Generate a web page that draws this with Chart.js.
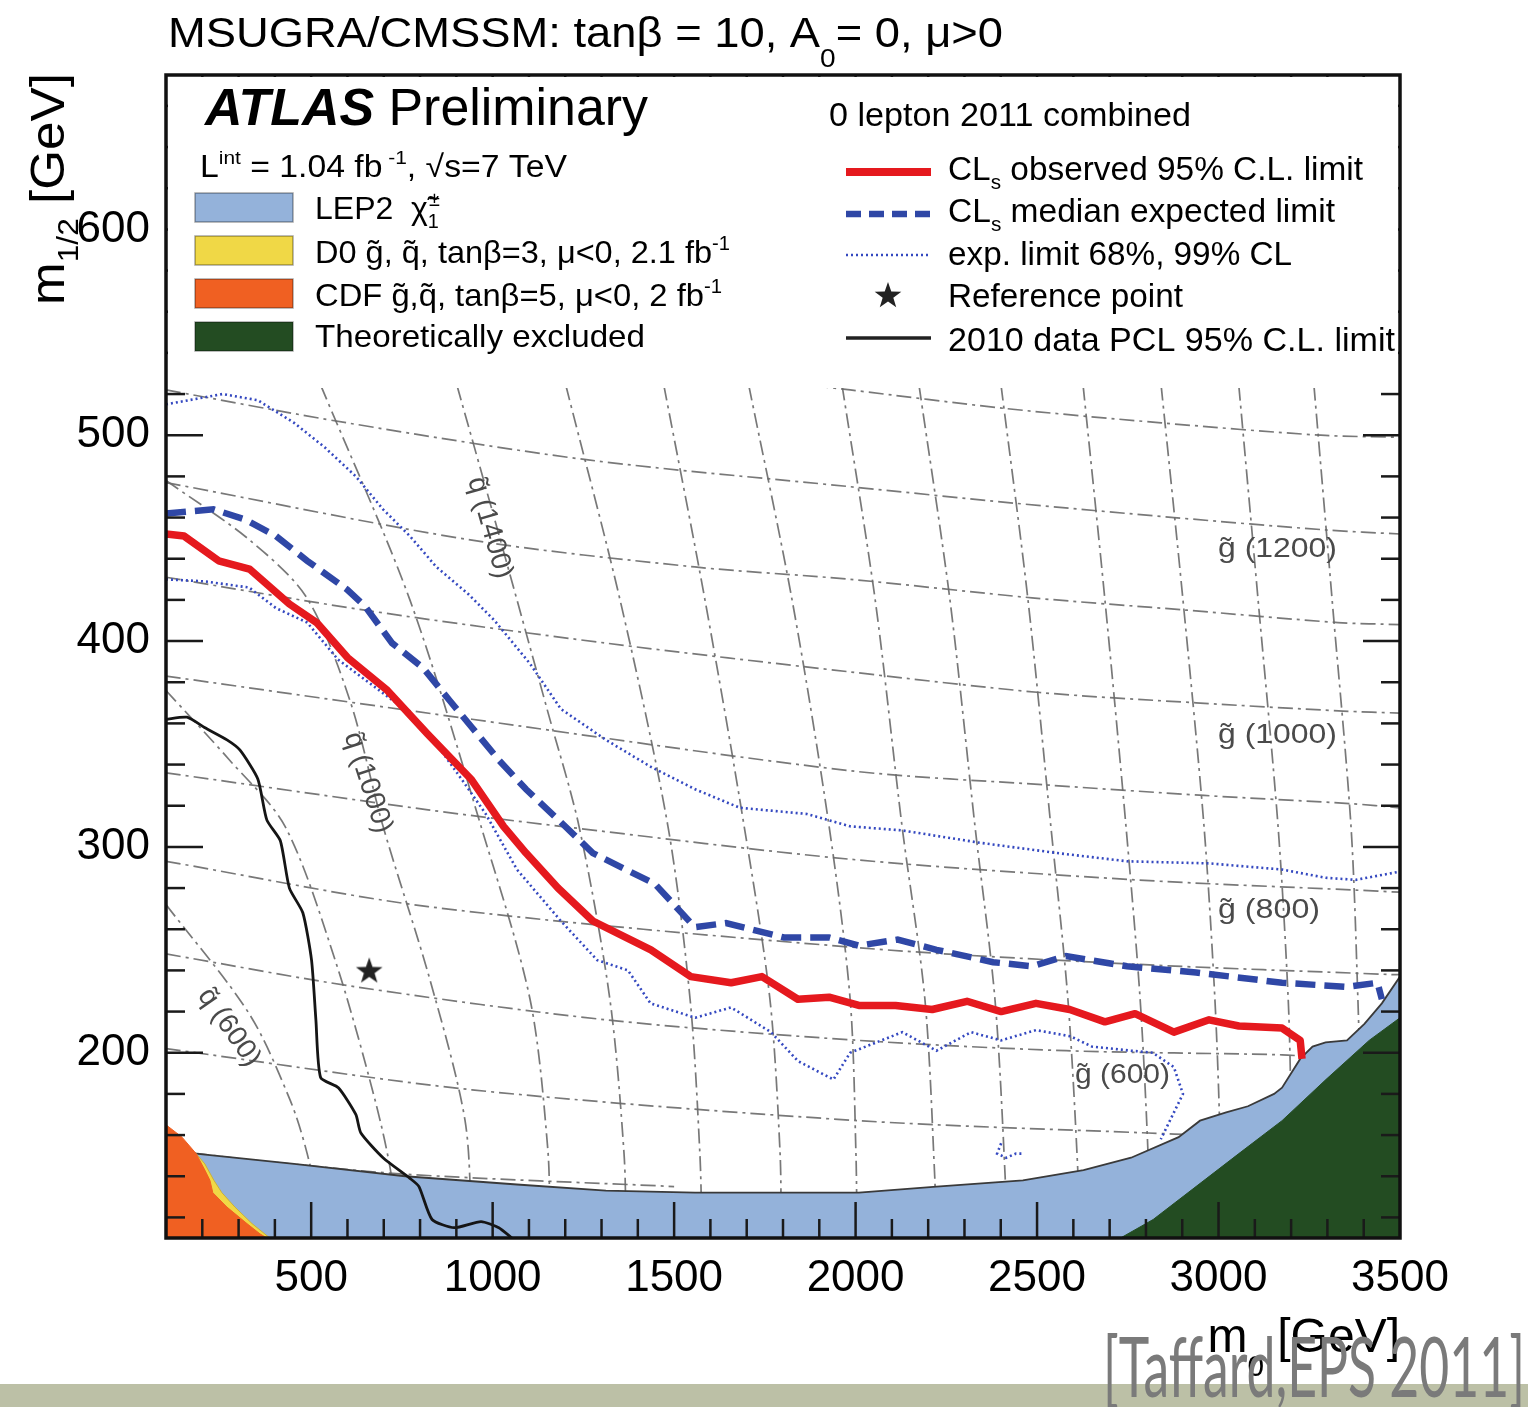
<!DOCTYPE html>
<html><head><meta charset="utf-8">
<script src="https://cdn.jsdelivr.net/npm/chart.js@4.4.1/dist/chart.umd.min.js"></script>
<style>html,body{margin:0;padding:0;background:#fff;}#wrap{position:relative;width:1528px;height:1407px;}canvas{display:block;}</style>
</head><body><div id="wrap"><canvas id="c" width="1528" height="1407"></canvas></div>
<script>
// ---------- data (m0 [GeV], m1/2 [GeV]) ----------
const xLabelValues = [500, 1000, 1500, 2000, 2500, 3000, 3500];
const yLabelValues = [200, 300, 400, 500, 600];

const observedLimit = [[100,452],[150,451],[245,439],[330,435],[440,418],[515,409],[600,392],[710,376],[820,355],[940,333],[1030,310],[1092,297],[1180,280],[1276,264],[1436,250],[1546,237],[1657,234],[1742,237],[1841,226],[1927,227],[2009,223],[2110,223],[2211,221],[2307,225],[2401,220],[2497,224],[2590,221],[2687,215],[2770,219],[2877,210],[2974,216],[3056,213],[3175,212],[3225,206],[3230,197]];
const expectedLimit = [[100,462],[231,464],[318,459],[403,451],[489,439],[599,425],[648,417],[723,399],[808,387],[882,371],[943,358],[1018,342],[1092,328],[1188,312],[1276,297],[1447,282],[1557,261],[1643,263],[1803,256],[1927,256],[2009,252],[2116,255],[2223,250],[2379,244],[2486,242],[2580,247],[2748,242],[2938,239],[3175,234],[3354,232],[3438,234],[3450,226]];
const expectedUpper = [[100,515],[256,520],[353,517],[453,506],[538,494],[623,480],[698,464],[772,451],[845,436],[932,423],[1005,410],[1103,389],[1188,367],[1312,352],[1435,339],[1558,328],[1681,319],[1866,316],[1985,310],[2129,308],[2343,302],[2556,297],[2748,293],[2974,292],[3175,289],[3295,285],[3378,284],[3500,288]];
const expectedLower = [[100,430],[206,429],[329,426],[403,416],[489,409],[574,391],[673,378],[772,365],[845,350],[918,332],[981,316],[1067,289],[1188,264],[1288,245],[1373,240],[1435,224],[1558,217],[1657,222],[1767,210],[1841,196],[1939,187],[1985,200],[2129,210],[2223,201],[2318,210],[2401,206],[2497,211],[2592,208],[2651,203],[2759,201],[2819,200],[2877,193],[2902,180],[2841,158]];
const expectedIsland = [[2401,156],[2390,151],[2415,149],[2442,151],[2461,151]];
const pcl2010 = [[100,362],[158,363],[206,358],[268,352],[304,347],[353,333],[378,313],[415,303],[440,280],[477,268],[501,245],[513,216],[526,188],[575,183],[623,170],[637,161],[698,149],[772,139],[797,135],[833,119],[894,115],[968,118],[1017,115],[1053,110]];
const referencePoint = [[660,240]];

const lep2Chargino = [[100,155],[182,151],[453,146],[759,140],[1067,136],[1312,133],[1558,132],[2009,132],[2223,135],[2461,138],[2628,143],[2759,149],[2890,159],[2949,167],[3021,171],[3081,174],[3153,180],[3175,183],[3225,197],[3259,203],[3295,205],[3354,206],[3402,214],[3450,224],[3500,237]];
const theoExcluded = [[2730,110],[2820,119],[2938,135],[3056,151],[3175,167],[3296,187],[3415,206],[3500,217]];
const cdfExcluded = [[100,165],[144,159],[183,151],[207,143],[221,138],[229,132],[268,125],[323,117],[359,112],[378,110]];
const d0Excluded = [[183,151],[207,146],[232,138],[254,132],[290,125],[337,117],[386,110]];

// iso-mass contours
const gluino400 = [[100,153],[330,148],[760,141],[1500,135]];
const gluino500 = [[100,202],[943,182],[2009,167],[2806,161],[2950,160]];
const gluino600 = [[100,248],[624,232],[1312,216],[2009,206],[2580,201],[3175,199],[3260,198]];
const gluino700 = [[100,293],[822,271],[2009,251],[2770,243],[3475,238],[3500,238]];
const gluino800 = [[100,336],[822,318],[1188,310],[1985,294],[2770,284],[3379,279],[3500,278]];
const gluino900 = [[100,383],[943,362],[1985,337],[2533,330],[2960,325],[3365,321],[3500,319]];
const gluino1000 = [[100,431],[648,415],[1312,399],[1985,385],[2508,375],[2938,370],[3343,366],[3500,365]];
const gluino1100 = [[100,477],[943,449],[1557,436],[1985,430],[2486,421],[2913,415],[3329,409],[3500,408]];
const gluino1200 = [[100,522],[599,506],[1263,488],[1985,475],[2437,467],[2877,460],[3294,454],[3500,452]];
const gluino1300 = [[1500,532],[1985,522],[2412,513],[2842,506],[3282,500],[3500,499]];

const squark600 = [[100,272],[329,219],[442,177],[489,151],[540,110]];
const squark800 = [[100,376],[276,342],[428,310],[566,245],[676,177],[723,138],[731,110]];
const squark1000 = [[100,478],[331,449],[488,421],[607,371],[698,310],[828,235],[924,167],[943,110]];
const squark1200 = [[527,524],[772,420],[968,310],[1103,226],[1152,153],[1158,110]];
const squark1400 = [[902,524],[1012,455],[1153,365],[1238,310],[1323,226],[1362,151],[1368,110]];
const squark1600 = [[1202,524],[1351,420],[1483,310],[1544,226],[1571,151],[1577,110]];
const squark1800 = [[1472,524],[1585,420],[1693,310],[1764,226],[1792,151],[1795,110]];
const squark2000 = [[1706,524],[1825,420],[1927,310],[1985,226],[2001,151],[2004,110]];
const squark2200 = [[1963,524],[2054,420],[2128,310],[2191,226],[2218,140],[2222,110]];
const squark2400 = [[2175,524],[2260,420],[2329,310],[2384,226],[2412,140],[2415,110]];
const squark2600 = [[2401,524],[2475,420],[2538,310],[2585,226],[2613,140],[2616,110]];
const squark2800 = [[2627,524],[2687,420],[2745,310],[2784,226],[2806,150],[2810,110]];
const squark3000 = [[2842,524],[2902,420],[2960,310],[2990,226],[3004,160],[3008,110]];
const squark3200 = [[3056,524],[3109,420],[3164,310],[3192,226],[3200,170],[3204,110]];
const squark3400 = [[3263,524],[3313,420],[3365,310],[3384,226],[3392,170],[3396,110]];

const gridContours = [gluino400,gluino500,gluino600,gluino700,gluino800,gluino900,gluino1000,gluino1100,gluino1200,gluino1300,
  squark600,squark800,squark1000,squark1200,squark1400,squark1600,squark1800,squark2000,squark2200,squark2400,squark2600,squark2800,squark3000,squark3200,squark3400];

// ---------- styling ----------
const FONT = 'Liberation Sans';
const C_RED = '#e5191e', C_BLUE = '#2f47a6', C_DOT = '#3448c0';
const C_LEP = '#94b2da', C_D0 = '#f0d846', C_CDF = '#f06022', C_THEO = '#234c22';
const pts = a => a.map(p => ({x:p[0], y:p[1]}));

const starImg = document.createElement('canvas');
starImg.width = 30; starImg.height = 30;
(function(){
  const s = starImg.getContext('2d');
  s.fillStyle = '#222'; s.beginPath();
  for (let i=0;i<10;i++){
    const r = i%2===0 ? 14 : 5.6;
    const a = -Math.PI/2 + i*Math.PI/5;
    const px = 15 + r*Math.cos(a), py = 16 + r*Math.sin(a);
    if (i===0) s.moveTo(px,py); else s.lineTo(px,py);
  }
  s.closePath(); s.fill();
})();

function rich(ctx, segs, x, y, size, o){
  o = o || {};
  const parts = segs.map(s => {
    const sz = s.s ? size*0.62 : size;
    const font = `${(s.i||o.italic)?'italic ':''}${(s.b||o.bold)?'bold ':''}${sz}px "${o.family||FONT}"`;
    ctx.font = font;
    const w = ctx.measureText(s.t).width;
    const dy = s.dy !== undefined ? s.dy : (s.s==='sub' ? size*0.28 : s.s==='sup' ? -size*0.42 : 0);
    return {t:s.t, font, w, dy, dx:s.dx||0};
  });
  const total = parts.reduce((a,p)=>a+p.w+p.dx,0);
  const sx = o.width ? o.width/total : 1;
  ctx.save();
  ctx.translate(x,y);
  if (o.rot) ctx.rotate(o.rot);
  let start = 0;
  if (o.align==='right') start = -total*sx; else if (o.align==='center') start = -total*sx/2;
  ctx.translate(start, o.vcenter ? size*0.36 : 0);
  ctx.scale(sx,1);
  ctx.fillStyle = o.color || '#000';
  ctx.textBaseline = 'alphabetic'; ctx.textAlign = 'left';
  let cx = 0;
  for (const p of parts){ cx += p.dx; ctx.font = p.font; ctx.fillText(p.t, cx, p.dy); cx += p.w; }
  ctx.restore();
}
function seg(ctx,x1,y1,x2,y2){ctx.beginPath();ctx.moveTo(x1,y1);ctx.lineTo(x2,y2);ctx.stroke();}

const decor = {
  id:'decor',
  beforeDraw(chart){
    const ctx = chart.ctx;
    ctx.save();
    ctx.fillStyle = '#fff'; ctx.fillRect(0,0,chart.width,chart.height);
    ctx.fillStyle = '#bcc0a6'; ctx.fillRect(0,1384,chart.width,chart.height-1384);
    ctx.restore();
  },
  afterDatasetsDraw(chart){
    const ctx = chart.ctx, a = chart.chartArea, xs = chart.scales.x, ys = chart.scales.y;
    ctx.save();
    // inward ticks
    ctx.strokeStyle = '#1a1a1a'; ctx.lineWidth = 2.5;
    for (let v=120; v<=660; v+=20){
      const p = ys.getPixelForValue(v), L = v%100===0 ? 37 : 19;
      seg(ctx,a.left,p,a.left+L,p); seg(ctx,a.right,p,a.right-L,p);
    }
    for (let v=200; v<=3400; v+=100){
      const p = xs.getPixelForValue(v), L = v%500===0 ? 36 : 19;
      seg(ctx,p,a.bottom,p,a.bottom-L); seg(ctx,p,a.top,p,a.top+L);
    }
    // legend panel
    ctx.fillStyle = '#fff';
    ctx.fillRect(a.left+2, a.top+2, a.right-a.left-4, 386-a.top);
    // frame
    ctx.strokeStyle = '#111'; ctx.lineWidth = 3.5;
    ctx.strokeRect(a.left, a.top, a.right-a.left, a.bottom-a.top);

    // left legend
    rich(ctx,[{t:'ATLAS',b:1,i:1},{t:' Preliminary'}],205,125,51,{width:443});
    rich(ctx,[{t:'L'},{t:'int',s:'sup'},{t:' = 1.04 fb'},{t:' -1',s:'sup'},{t:', √s=7 TeV'}],200,177,31,{width:367});
    const boxes = [[C_LEP,193],[C_D0,236],[C_CDF,279],[C_THEO,322]];
    for (const [col,top] of boxes){
      ctx.fillStyle = col; ctx.fillRect(195,top,98,29);
      ctx.strokeStyle = 'rgba(0,0,0,0.35)'; ctx.lineWidth = 1.5; ctx.strokeRect(195,top,98,29);
    }
    rich(ctx,[{t:'LEP2  χ\u0303'},{t:'1',s:'sub'},{t:'±',s:'sup',dx:-10}],315,219,32,{});
    rich(ctx,[{t:'D0 g\u0303, q\u0303, tanβ=3, μ<0, 2.1 fb'},{t:'-1',s:'sup'}],315,263,32,{width:415});
    rich(ctx,[{t:'CDF g\u0303,q\u0303, tanβ=5, μ<0, 2 fb'},{t:'-1',s:'sup'}],315,306,32,{width:407});
    rich(ctx,[{t:'Theoretically excluded'}],315,347,32,{width:330});

    // right legend
    rich(ctx,[{t:'0 lepton 2011 combined'}],829,126,33,{width:362});
    ctx.lineCap = 'butt';
    ctx.strokeStyle = C_RED; ctx.lineWidth = 8; seg(ctx,846,172,931,172);
    ctx.strokeStyle = C_BLUE; ctx.lineWidth = 6.5; ctx.setLineDash([15,8]); seg(ctx,846,214,931,214);
    ctx.strokeStyle = C_DOT; ctx.lineWidth = 2.5; ctx.setLineDash([2,3]); seg(ctx,846,255,931,255);
    ctx.setLineDash([]);
    ctx.drawImage(starImg, 888-15, 296-16);
    ctx.strokeStyle = '#222'; ctx.lineWidth = 3.5; seg(ctx,846,338,931,338);
    rich(ctx,[{t:'CL'},{t:'s',s:'sub'},{t:' observed 95% C.L. limit'}],948,180,33,{width:415});
    rich(ctx,[{t:'CL'},{t:'s',s:'sub'},{t:' median expected limit'}],948,222,33,{width:387});
    rich(ctx,[{t:'exp. limit 68%, 99% CL'}],948,265,33,{width:344});
    rich(ctx,[{t:'Reference point'}],948,307,33,{width:235});
    rich(ctx,[{t:'2010 data PCL 95% C.L. limit'}],948,351,33,{width:447});

    // contour labels
    const gc = '#4a4a4a';
    rich(ctx,[{t:'g\u0303 (1200)'}],1218,557,28,{width:119,color:gc});
    rich(ctx,[{t:'g\u0303 (1000)'}],1218,743,28,{width:119,color:gc});
    rich(ctx,[{t:'g\u0303 (800)'}],1218,918,28,{width:102,color:gc});
    rich(ctx,[{t:'g\u0303 (600)'}],1075,1083,28,{width:95,color:gc});
    rich(ctx,[{t:'q\u0303 (1400)'}],492,527,28,{align:'center',vcenter:1,rot:74*Math.PI/180,color:gc});
    rich(ctx,[{t:'q\u0303 (1000)'}],370,782,28,{align:'center',vcenter:1,rot:72*Math.PI/180,color:gc});
    rich(ctx,[{t:'q\u0303 (600)'}],231,1026,28,{align:'center',vcenter:1,rot:55*Math.PI/180,color:gc});
    ctx.restore();
  },
  afterDraw(chart){
    const ctx = chart.ctx;
    ctx.save();
    rich(ctx,[{t:'MSUGRA/CMSSM: tanβ = 10, A'},{t:'0',s:'sub',dy:20},{t:'= 0, μ>0'}],168,47,42,{width:835});
    rich(ctx,[{t:'m'},{t:'1/2',s:'sub',dy:14},{t:' [GeV]'}],64,305,49,{rot:-Math.PI/2,width:232});
    rich(ctx,[{t:'m'},{t:'0',s:'sub',dy:24},{t:' [GeV]'}],1400,1352,48,{align:'right'});
    rich(ctx,[{t:'[Taffard,EPS 2011]'}],1525,1397,84,{align:'right',width:422,color:'#7a7a7a',family:'Lato'});
    ctx.restore();
  }
};

function lineDS(data, color, width, dash, order, extra){
  return Object.assign({data:pts(data), borderColor:color, borderWidth:width, borderDash:dash||[], pointRadius:0, pointHoverRadius:0, fill:false, tension:0, order:order}, extra||{});
}

const datasets = [];
datasets.push({data:pts(referencePoint), pointStyle:starImg, pointRadius:15, showLine:false, order:0, borderColor:'#222', backgroundColor:'#222'});
datasets.push(lineDS(observedLimit, C_RED, 7.5, [], 1, {borderJoinStyle:'round'}));
datasets.push(lineDS(expectedLimit, C_BLUE, 6.5, [20,9], 2));
datasets.push(lineDS(expectedUpper, C_DOT, 2.6, [2,3], 3));
datasets.push(lineDS(expectedLower, C_DOT, 2.6, [2,3], 3));
datasets.push(lineDS(expectedIsland, C_DOT, 2.6, [2,3], 3));
datasets.push(lineDS(pcl2010, '#151515', 2.8, [], 4, {tension:0.2}));
datasets.push(lineDS(theoExcluded, C_THEO, 1, [], 5, {fill:'start', backgroundColor:C_THEO}));
datasets.push(lineDS(cdfExcluded, C_CDF, 1, [], 6, {fill:'start', backgroundColor:C_CDF}));
datasets.push(lineDS(d0Excluded, '#c9b13a', 1, [], 7, {fill:'start', backgroundColor:C_D0}));
datasets.push(lineDS(lep2Chargino, '#3a3a3a', 1.8, [], 8, {fill:'start', backgroundColor:C_LEP}));
for (const g of gridContours) datasets.push(lineDS(g, 'rgba(105,105,105,0.9)', 1.7, [15,5,3,5], 10, {tension:0.3}));

new Chart(document.getElementById('c'), {
  type:'line',
  data:{datasets},
  plugins:[decor],
  options:{
    responsive:false, maintainAspectRatio:false, devicePixelRatio:1, animation:false, events:[],
    layout:{padding:{top:75, right:128, left:0, bottom:0}},
    plugins:{legend:{display:false}, tooltip:{enabled:false}, title:{display:false}},
    scales:{
      x:{type:'linear', min:100, max:3500, position:'bottom',
         grid:{display:false, drawTicks:false}, border:{display:false},
         afterBuildTicks:s => { s.ticks = xLabelValues.map(v => ({value:v})); },
         ticks:{autoSkip:false, maxRotation:0, padding:14, color:'#000', font:{family:FONT, size:44},
                callback:v => String(v)},
         afterFit:s => { s.height = 169; }},
      y:{type:'linear', min:110, max:675, position:'left',
         grid:{display:false, drawTicks:false}, border:{display:false},
         afterBuildTicks:s => { s.ticks = yLabelValues.map(v => ({value:v})); },
         ticks:{autoSkip:false, padding:16, color:'#000', font:{family:FONT, size:44},
                callback:v => String(v)},
         afterFit:s => { s.width = 166; }}
    }
  }
});
</script></body></html>
